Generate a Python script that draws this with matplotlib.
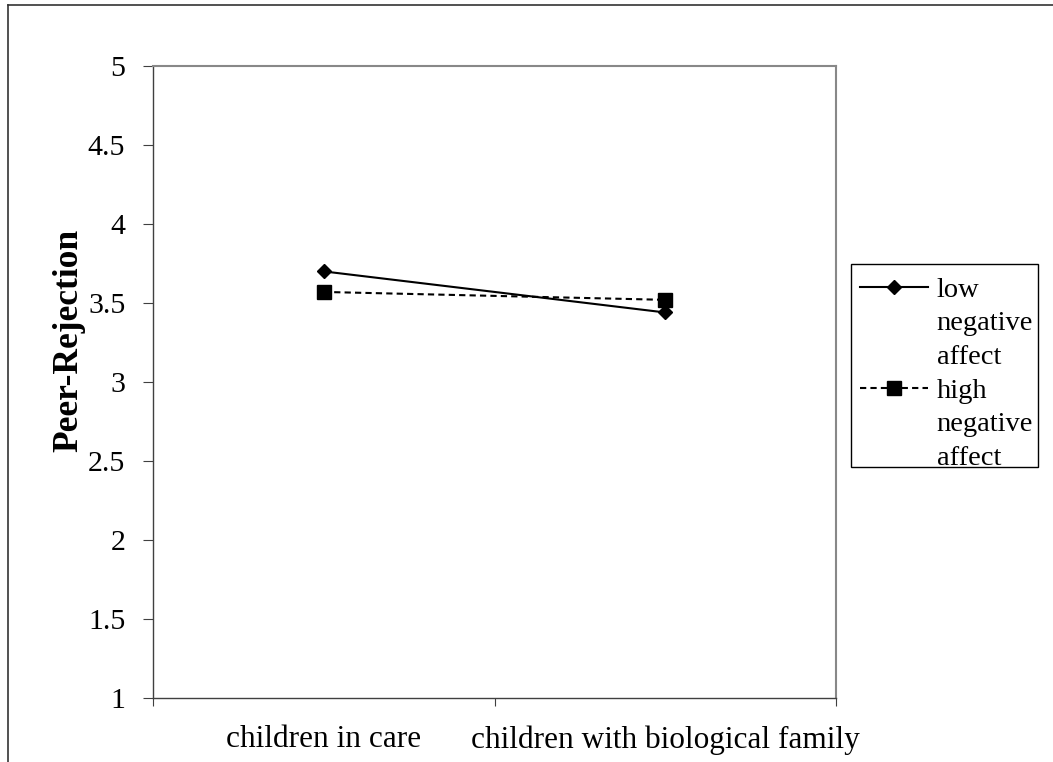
import matplotlib
matplotlib.use("Agg")
import matplotlib.pyplot as plt
from matplotlib.lines import Line2D
from matplotlib.patches import Rectangle

categories = ["children in care", "children with biological family"]
low_na = [3.70, 3.44]
high_na = [3.57, 3.52]
y_ticks = [1, 1.5, 2, 2.5, 3, 3.5, 4, 4.5, 5]
y_tick_labels = ["1", "1.5", "2", "2.5", "3", "3.5", "4", "4.5", "5"]

plt.rcParams['font.family'] = ['Liberation Serif', 'DejaVu Serif']

W, H = 1053, 762
fig = plt.figure(figsize=(W / 100, H / 100), dpi=100)
ax = fig.add_axes([153 / W, 1 - 698 / H, (836 - 153) / W, (698 - 66) / H])

xpos = [0.5, 1.5]
ax.plot(xpos, low_na, color='black', lw=1.5, marker='D', ms=7, label='low')
ax.plot(xpos, high_na, color='black', lw=1.5, marker='s', ms=10,
        dashes=(3, 2), label='high')

ax.set_xlim(0, 2)
ax.set_ylim(1, 5)
ax.set_yticks(y_ticks, labels=y_tick_labels)
ax.set_xticks([0, 1, 2], labels=["", "", ""])
ax.set_xticks(xpos, labels=categories, minor=True)
ax.tick_params(axis='x', which='minor', length=0, pad=19.5, labelsize=22.5)
ax.tick_params(axis='x', which='major', direction='out', length=6, width=0.8, color='#404040')
ax.tick_params(axis='y', direction='out', length=7, width=0.8, color='#404040', pad=13, labelsize=21.5)

for s in ['left', 'bottom']:
    ax.spines[s].set_color('#404040')
    ax.spines[s].set_linewidth(1.0)
for s in ['top', 'right']:
    ax.spines[s].set_color('#888888')
    ax.spines[s].set_linewidth(1.5)

ax.set_ylabel("Peer-Rejection", fontsize=25.5, fontweight='bold')
ax.yaxis.set_label_coords(-0.099, 0.565)

h1 = Line2D([], [], color='black', lw=1.5, marker='D', ms=7)
h2 = Line2D([], [], color='black', lw=1.5, marker='s', ms=10, dashes=(3, 2))
blank = Line2D([], [], linestyle='none')
handles = [h1, blank, blank, h2, blank, blank]
labels = ['low', 'negative', 'affect', 'high', 'negative', 'affect']
leg = fig.legend(handles, labels, loc='upper left',
                 bbox_to_anchor=(857 / W, 1 - 274 / H),
                 fontsize=20.5, frameon=False,
                 labelspacing=0.27, handlelength=2.38, handletextpad=0.32,
                 borderpad=0.1, borderaxespad=0)

# legend box
fig.add_artist(Rectangle((851 / W, 1 - 467 / H), (1038 - 851) / W, (467 - 264) / H,
                         transform=fig.transFigure, fill=False,
                         edgecolor='black', lw=1.0))

fig.add_artist(Line2D([8 / W, 1], [1 - 5 / H, 1 - 5 / H], transform=fig.transFigure,
                      color='#333333', lw=1.2))
fig.add_artist(Line2D([8 / W, 8 / W], [0, 1 - 5 / H], transform=fig.transFigure,
                      color='#333333', lw=1.2))

fig.savefig("out.png", dpi=100)
